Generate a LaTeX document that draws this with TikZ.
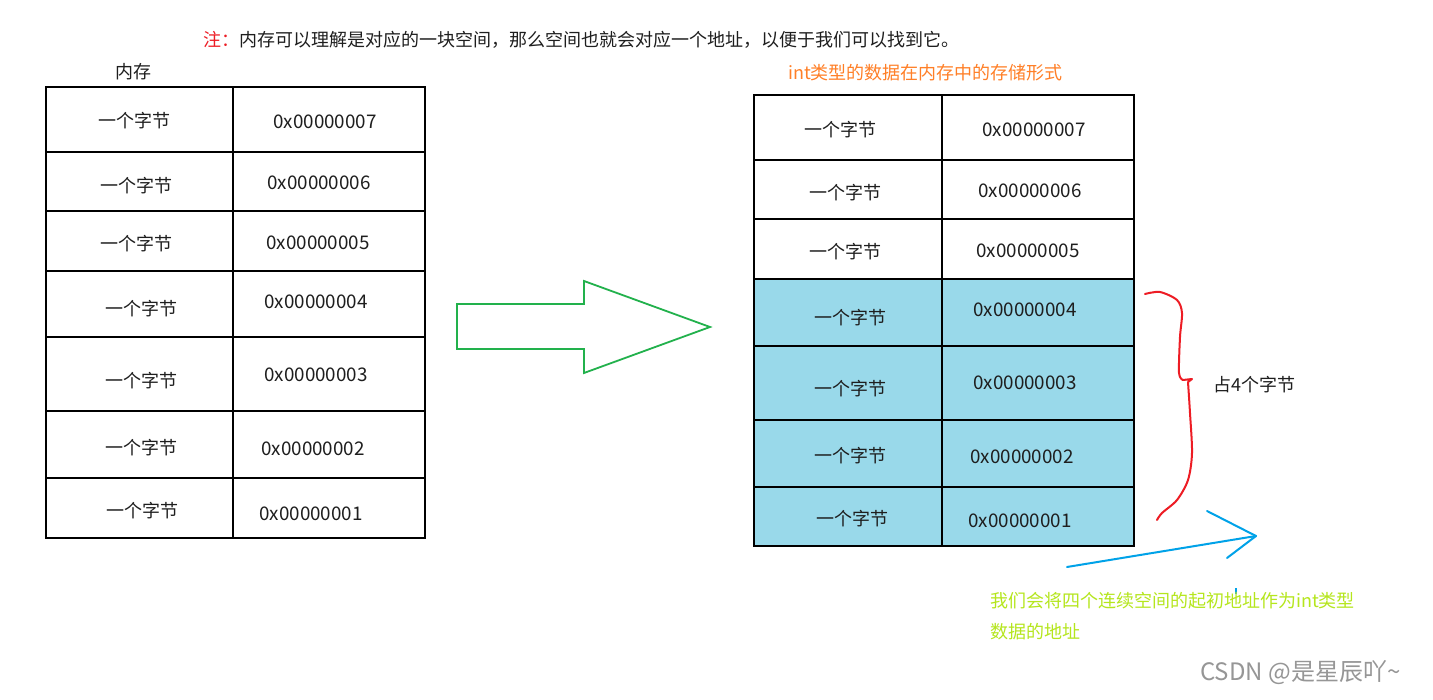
\documentclass[tikz,border=0pt]{standalone}
\usepackage{fontspec}
\setmainfont{Noto Sans CJK SC}
\definecolor{cellblue}{RGB}{153,217,234}
\definecolor{arrowgreen}{RGB}{34,177,76}
\definecolor{notered}{RGB}{237,28,36}
\definecolor{titleorange}{RGB}{255,127,39}
\definecolor{limegreen}{RGB}{181,230,29}
\definecolor{skyblue}{RGB}{0,162,232}
\definecolor{txt}{RGB}{30,30,30}
\definecolor{wm}{RGB}{150,150,150}
\begin{document}
\begin{tikzpicture}[x=1pt,y=-1pt,
  every node/.style={inner sep=0pt, text=txt, font=\fontsize{18}{22}\selectfont},
  tbl/.style={line width=2pt, black},
  celltext/.style={anchor=center},
  addr/.style={anchor=center, font=\fontsize{18.8}{22}\selectfont},
]
\useasboundingbox (0,0) rectangle (1433,700);
\fill[white] (0,0) rectangle (1433,700);

% top note
\node[anchor=west] (note) at (203,40) {\textcolor{notered}{注：}内存可以理解是对应的一块空间，那么空间也就会对应一个地址，以便于我们可以找到它。};

% left table
\node (memlabel) at (133,72) {内存};
\draw[tbl] (46,87) rectangle (425,538);
\draw[tbl] (233,87) -- (233,538);
\foreach \y in {152,211,271,337,411,478} \draw[tbl] (46,\y) -- (425,\y);
\foreach \n/\x/\y in {7/134/121,6/136/186,5/136/244,4/141/309,3/141/381,2/141/448,1/142/511}
  \node[celltext] (lb\n) at (\x,\y) {一个字节};
\foreach \n/\x/\y in {7/325/122,6/319/183,5/318/243,4/316/302,3/316/375,2/313/449,1/311/514}
  \node[addr] (la\n) at (\x,\y) {0x0000000\n};

% green hollow arrow
\draw[arrowgreen, line width=1.8pt, line join=miter]
  (457,304) -- (584,304) -- (584,281) -- (710,327) -- (584,373) -- (584,349) -- (457,349) -- cycle;

% right table
\node[text=titleorange, anchor=west] (title) at (788,73) {int类型的数据在内存中的存储形式};
\fill[cellblue] (754,279) rectangle (1134,546);
\draw[tbl] (754,95) rectangle (1134,546);
\draw[tbl] (942,95) -- (942,546);
\foreach \y in {160,219,279,346,420,487} \draw[tbl] (754,\y) -- (1134,\y);
\foreach \n/\x/\y in {7/840/130,6/845/193,5/845/252,4/850/318,3/850/389,2/850/456,1/852/519}
  \node[celltext] (rb\n) at (\x,\y) {一个字节};
\foreach \n/\x/\y in {7/1034/130,6/1030/191,5/1028/251,4/1025/310,3/1025/383,2/1022/457,1/1020/521}
  \node[addr] (ra\n) at (\x,\y) {0x0000000\n};

% red brace
\draw[notered, line width=2pt, line cap=round, line join=round]
  plot[smooth, tension=0.5] coordinates {(1145,294) (1160,292) (1177,300) (1182,313) (1180,337) (1179,373) (1183,380)}
  -- (1192,379) -- (1188,382)
  plot[smooth, tension=0.5] coordinates {(1188,382) (1190,413) (1192,453) (1188,480) (1177,500) (1162,513) (1157,520)};
\node[anchor=west] (four) at (1213,385) {占4个字节};

% blue arrow
\coordinate (bs) at (1067,567);
\coordinate (bt) at (1256,536);
\coordinate (bh1) at (1207,511);
\coordinate (bh2) at (1227,558);
\draw[skyblue, line width=2pt, line cap=round] (bs) -- (bt);
\draw[skyblue, line width=2pt, line cap=round, line join=round] (bh1) -- (bt) -- (bh2);
\draw[skyblue, line width=1.5pt] (1236,588) -- (1236,594);

% green explanation
\node[text=limegreen, anchor=west] (expl1) at (990,601) {我们会将四个连续空间的起初地址作为int类型};
\node[text=limegreen, anchor=west] (expl2) at (990,632) {数据的地址};

% watermark
\node[text=wm, anchor=west, font=\fontsize{24}{28}\selectfont] (wmark) at (1200,673) {CSDN @是星辰吖\textasciitilde};
\end{tikzpicture}
\end{document}
